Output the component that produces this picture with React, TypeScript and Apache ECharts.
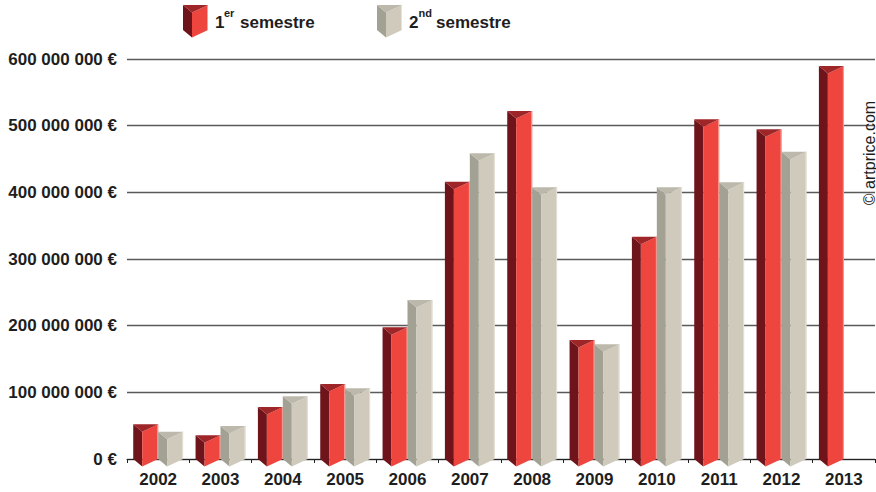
import React, { useEffect, useRef } from "react";
import * as echarts from "echarts";

const years = ["2002", "2003", "2004", "2005", "2006", "2007", "2008", "2009", "2010", "2011", "2012", "2013"];
const semestre1 = [52e6, 35.5e6, 78e6, 112.5e6, 197.5e6, 416e6, 522e6, 178.5e6, 333.5e6, 509.5e6, 494.5e6, 589.5e6];
const semestre2: (number | null)[] = [41e6, 49.5e6, 94e6, 106e6, 238.5e6, 458.5e6, 407.5e6, 172e6, 407.5e6, 415e6, 461e6, null];
const seriesNames = ["1er semestre", "2nd semestre"];

const RED = { front: "#ee463e", side: "#6e141a", top: "#9e2528", edge: "#f6a29c" };
const GRAY = { front: "#cfcabc", side: "#a3a194", top: "#bcb8ab", edge: "#e6e2d8" };

const FONT = "'Liberation Sans', Arial, sans-serif";

function fmtEuro(v: number): string {
  const s = Math.round(v).toString().replace(/\B(?=(\d{3})+(?!\d))/g, " ");
  return s + " €";
}

function prism(L: number, R: number, T: number, B: number, c: any) {
  const bw = R - L;
  const F = L + bw * 0.36;
  const d = bw * 0.3;
  return [
    { type: "polygon", shape: { points: [[L, T], [F, T + d], [F, B + d], [L, B]] }, style: { fill: c.side } },
    { type: "polygon", shape: { points: [[F, T + d], [R, T], [R, B], [F, B + d]] }, style: { fill: c.front } },
    { type: "line", shape: { x1: R - 0.5, y1: T, x2: R - 0.5, y2: B }, style: { stroke: c.edge, lineWidth: 1 } },
    { type: "polygon", shape: { points: [[L, T], [R, T], [F, T + d]] }, style: { fill: c.top } },
  ];
}

function makeRender(which: number) {
  const c = which === 0 ? RED : GRAY;
  return (params: any, api: any) => {
    const i = api.value(0);
    const v = api.value(1);
    const top = api.coord([i, v]);
    const base = api.coord([i, 0]);
    const w = api.size([1, 0])[0];
    const bw = w * 0.4;
    const L = which === 0 ? top[0] - bw : top[0];
    const R = L + bw;
    return { type: "group", children: prism(L, R, top[1], base[1], c) };
  };
}

export default function App() {
  const ref = useRef<HTMLDivElement>(null);
  useEffect(() => {
    if (!ref.current) return;
    const chart = echarts.init(ref.current, null, { renderer: "svg" });
    const d1 = semestre1.map((v, i) => [i, v]);
    const d2 = semestre2.map((v, i) => (v == null ? null : [i, v])).filter((x) => x != null);
    chart.setOption({
      animation: false,
      backgroundColor: "#ffffff",
      grid: { left: 127, right: 1, top: 59, bottom: 33, containLabel: false },
      xAxis: {
        type: "category",
        data: years,
        boundaryGap: true,
        axisLine: { show: true, lineStyle: { color: "#222", width: 1 } },
        axisTick: { show: true, length: 4, lineStyle: { color: "#222" } },
        axisLabel: { fontFamily: FONT, fontWeight: "bold", fontSize: 17, color: "#1e1e1e", margin: 12 },
      },
      yAxis: {
        type: "value",
        min: 0,
        max: 600e6,
        interval: 100e6,
        axisLine: { show: false },
        axisTick: { show: false },
        splitLine: { show: true, lineStyle: { color: "#5a5a5a", width: 1.3 } },
        axisLabel: {
          fontFamily: FONT,
          fontWeight: "bold",
          fontSize: 17,
          color: "#1e1e1e",
          margin: 10,
          formatter: (v: number) => fmtEuro(v),
        },
      },
      series: [
        { type: "custom", name: seriesNames[0], renderItem: makeRender(0), data: d1, z: 3 },
        { type: "custom", name: seriesNames[1], renderItem: makeRender(1), data: d2, z: 3 },
      ],
      graphic: [
        ...prism(183, 208, 5, 30, RED).map((e: any) => ({ ...e, z: 10 })),
        { type: "text", x: 215, y: 22, style: { text: "1", font: `bold 17px ${FONT}`, fill: "#1e1e1e", verticalAlign: "middle" } },
        { type: "text", x: 224, y: 13, style: { text: "er", font: `bold 11px ${FONT}`, fill: "#1e1e1e", verticalAlign: "middle" } },
        { type: "text", x: 240, y: 22, style: { text: "semestre", font: `bold 17px ${FONT}`, fill: "#1e1e1e", verticalAlign: "middle" } },
        ...prism(377, 402, 5, 30, GRAY).map((e: any) => ({ ...e, z: 10 })),
        { type: "text", x: 409, y: 22, style: { text: "2", font: `bold 17px ${FONT}`, fill: "#1e1e1e", verticalAlign: "middle" } },
        { type: "text", x: 418.5, y: 13, style: { text: "nd", font: `bold 11px ${FONT}`, fill: "#1e1e1e", verticalAlign: "middle" } },
        { type: "text", x: 436, y: 22, style: { text: "semestre", font: `bold 17px ${FONT}`, fill: "#1e1e1e", verticalAlign: "middle" } },
        {
          type: "text",
          x: 869,
          y: 153,
          rotation: Math.PI / 2,
          style: { text: "© artprice.com", font: `16px ${FONT}`, fill: "#1e1e1e", align: "center", verticalAlign: "middle" },
          z: 10,
        },
      ],
    });
    return () => chart.dispose();
  }, []);
  return <div ref={ref} style={{ width: 876, height: 492, position: "absolute", left: 0, top: 0 }} />;
}
